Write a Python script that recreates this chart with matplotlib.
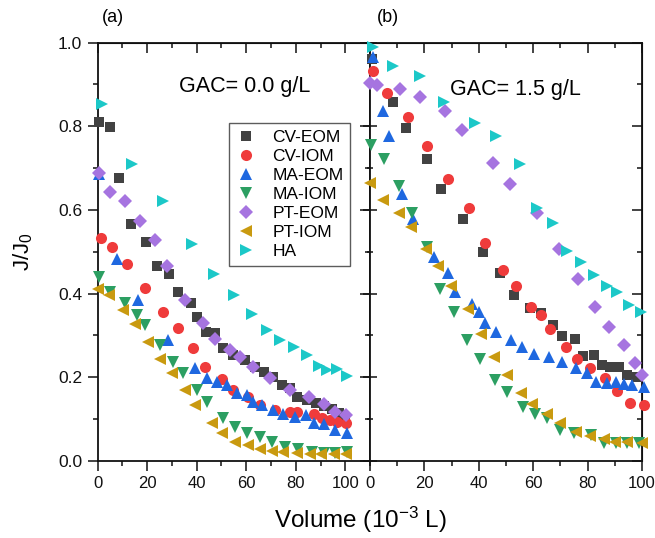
import matplotlib
matplotlib.use('Agg')
import matplotlib.pyplot as plt
from matplotlib.ticker import MultipleLocator, FormatStrFormatter

plt.rcParams['font.family'] = ['Liberation Sans', 'DejaVu Sans']
plt.rcParams['mathtext.fontset'] = 'custom'
plt.rcParams['mathtext.rm'] = 'Liberation Sans'
plt.rcParams['mathtext.it'] = 'Liberation Sans:italic'

# ---- panel (a): GAC = 0.0 g/L ----
a_cv_eom_x = [0.6, 5.0, 8.7, 13.5, 19.5, 24.1, 29.0, 32.6, 37.7, 40.0, 43.7, 47.2, 50.8, 54.8, 59.6,
              63.6, 67.0, 70.8, 74.4, 77.8, 80.7, 84.5, 88.3, 91.2, 94.6, 97.3, 100.0]
a_cv_eom_y = [0.811, 0.799, 0.676, 0.567, 0.524, 0.465, 0.447, 0.405, 0.377, 0.344, 0.309, 0.307,
              0.269, 0.253, 0.241, 0.225, 0.213, 0.202, 0.182, 0.174, 0.152, 0.147, 0.138, 0.131,
              0.124, 0.114, 0.106]
a_cv_iom_x = [1.2, 5.7, 11.7, 19.1, 26.5, 32.6, 38.4, 43.4, 50.1, 54.8, 60.9, 65.6, 71.7, 77.8,
              80.5, 87.2, 90.6, 93.9, 96.6, 100.4]
a_cv_iom_y = [0.532, 0.511, 0.471, 0.413, 0.355, 0.317, 0.269, 0.224, 0.195, 0.170, 0.154, 0.134,
              0.122, 0.118, 0.118, 0.112, 0.102, 0.098, 0.094, 0.092]
a_ma_eom_x = [0.6, 7.9, 16.4, 28.5, 39.3, 44.1, 48.1, 52.2, 56.2, 60.3, 62.7, 66.3, 71.0, 75.0,
              79.8, 84.2, 87.5, 91.2, 96.0, 100.7]
a_ma_eom_y = [0.686, 0.482, 0.385, 0.289, 0.222, 0.198, 0.190, 0.182, 0.162, 0.158, 0.142, 0.134,
              0.122, 0.112, 0.106, 0.110, 0.090, 0.088, 0.074, 0.066]
a_ma_iom_x = [0.6, 5.0, 11.0, 15.8, 19.1, 25.2, 30.3, 34.6, 40.3, 44.1, 50.5, 55.5, 60.3, 65.6,
              70.4, 75.7, 81.1, 86.5, 91.2, 96.0, 100.7]
a_ma_iom_y = [0.440, 0.405, 0.378, 0.349, 0.325, 0.277, 0.237, 0.210, 0.170, 0.142, 0.102, 0.082,
              0.066, 0.057, 0.046, 0.034, 0.028, 0.022, 0.020, 0.020, 0.022]
a_pt_eom_x = [0.6, 5.0, 11.0, 17.1, 23.2, 28.1, 35.3, 42.5, 47.4, 53.5, 57.5, 62.7, 69.7, 77.8,
              85.2, 91.5, 96.0, 100.4]
a_pt_eom_y = [0.689, 0.644, 0.622, 0.574, 0.527, 0.467, 0.385, 0.329, 0.291, 0.265, 0.249, 0.225,
              0.198, 0.170, 0.154, 0.136, 0.118, 0.110]
a_pt_iom_x = [0.0, 4.7, 10.4, 15.1, 20.5, 25.2, 29.9, 35.3, 39.3, 46.1, 50.1, 55.5, 60.9, 65.6,
              70.4, 75.0, 80.5, 85.6, 90.2, 95.6, 100.4]
a_pt_iom_y = [0.410, 0.397, 0.361, 0.328, 0.285, 0.245, 0.210, 0.170, 0.134, 0.090, 0.066, 0.046,
              0.038, 0.030, 0.025, 0.022, 0.020, 0.018, 0.017, 0.018, 0.018]
a_ha_x = [1.6, 13.7, 26.5, 38.0, 46.8, 55.1, 62.3, 68.3, 73.7, 79.1, 84.5, 89.2, 92.6, 96.6, 100.7]
a_ha_y = [0.853, 0.710, 0.622, 0.519, 0.448, 0.397, 0.351, 0.313, 0.289, 0.272, 0.253, 0.227,
          0.218, 0.221, 0.203]

# ---- panel (b): GAC = 1.5 g/L ----
b_cv_eom_x = [0.6, 8.4, 13.3, 20.9, 26.2, 34.2, 41.6, 47.7, 53.1, 58.8, 62.7, 67.4, 70.7, 75.4,
              78.5, 82.4, 85.5, 88.3, 91.6, 94.7, 97.8]
b_cv_eom_y = [0.960, 0.859, 0.795, 0.721, 0.650, 0.578, 0.500, 0.449, 0.397, 0.365, 0.353, 0.325,
              0.299, 0.291, 0.251, 0.253, 0.229, 0.224, 0.224, 0.206, 0.200]
b_cv_iom_x = [1.0, 6.4, 13.8, 20.9, 28.5, 36.3, 42.4, 49.0, 53.5, 59.3, 62.7, 66.2, 72.0, 76.3,
              81.0, 86.3, 91.0, 95.7, 100.6]
b_cv_iom_y = [0.931, 0.880, 0.823, 0.753, 0.673, 0.604, 0.520, 0.457, 0.418, 0.367, 0.349, 0.315,
              0.272, 0.243, 0.222, 0.198, 0.168, 0.138, 0.134]
b_ma_eom_x = [1.0, 4.7, 6.8, 11.7, 15.7, 23.6, 28.5, 31.4, 37.5, 40.0, 42.4, 46.5, 51.9, 55.9,
              60.3, 65.8, 70.7, 75.6, 79.9, 83.0, 87.3, 90.4, 93.4, 96.5, 100.6]
b_ma_eom_y = [0.965, 0.837, 0.777, 0.638, 0.578, 0.487, 0.449, 0.405, 0.375, 0.357, 0.331, 0.309,
              0.289, 0.273, 0.256, 0.248, 0.237, 0.222, 0.210, 0.190, 0.186, 0.190, 0.184, 0.182,
              0.178]
b_ma_iom_x = [0.3, 5.2, 10.8, 15.4, 20.9, 25.8, 31.0, 35.6, 40.3, 46.1, 50.4, 56.3, 60.5, 65.2,
              69.8, 75.0, 81.2, 85.9, 90.4, 94.7, 99.0]
b_ma_iom_y = [0.755, 0.721, 0.657, 0.592, 0.511, 0.410, 0.357, 0.289, 0.243, 0.194, 0.166, 0.130,
              0.112, 0.102, 0.074, 0.066, 0.062, 0.042, 0.044, 0.044, 0.044]
b_pt_eom_x = [0.0, 2.5, 11.1, 18.2, 27.7, 33.8, 45.3, 51.4, 61.5, 69.5, 76.5, 82.6, 87.9, 93.4,
              97.4, 100.2]
b_pt_eom_y = [0.903, 0.899, 0.889, 0.869, 0.837, 0.791, 0.713, 0.662, 0.592, 0.506, 0.435, 0.369,
              0.321, 0.277, 0.234, 0.206]
b_pt_iom_x = [0.0, 4.9, 10.5, 15.0, 20.7, 24.9, 29.8, 35.9, 40.8, 45.5, 50.4, 55.4, 59.7, 65.0,
              69.8, 75.6, 80.9, 85.9, 90.0, 94.7, 100.2]
b_pt_iom_y = [0.665, 0.624, 0.592, 0.559, 0.506, 0.466, 0.418, 0.363, 0.304, 0.249, 0.206, 0.162,
              0.136, 0.112, 0.092, 0.070, 0.060, 0.052, 0.046, 0.046, 0.044]
b_ha_x = [1.2, 8.6, 18.5, 27.1, 38.7, 46.5, 55.1, 61.5, 67.4, 72.6, 77.5, 82.4, 87.3, 91.0, 95.3,
          99.6]
b_ha_y = [0.989, 0.943, 0.919, 0.859, 0.807, 0.777, 0.710, 0.604, 0.568, 0.503, 0.476, 0.445,
          0.418, 0.405, 0.373, 0.357]

labels = ['CV-EOM', 'CV-IOM', 'MA-EOM', 'MA-IOM', 'PT-EOM', 'PT-IOM', 'HA']
markers = ['s', 'o', '^', 'v', 'D', '<', '>']
sizes = [7.5, 8, 9, 9, 7, 9, 9]
colors = ['#424242', '#ef3b3b', '#1f68e0', '#2c9f62', '#a674e0', '#c99a10', '#1cc8c8']

panel_a = [(a_cv_eom_x, a_cv_eom_y), (a_cv_iom_x, a_cv_iom_y), (a_ma_eom_x, a_ma_eom_y),
           (a_ma_iom_x, a_ma_iom_y), (a_pt_eom_x, a_pt_eom_y), (a_pt_iom_x, a_pt_iom_y),
           (a_ha_x, a_ha_y)]
panel_b = [(b_cv_eom_x, b_cv_eom_y), (b_cv_iom_x, b_cv_iom_y), (b_ma_eom_x, b_ma_eom_y),
           (b_ma_iom_x, b_ma_iom_y), (b_pt_eom_x, b_pt_eom_y), (b_pt_iom_x, b_pt_iom_y),
           (b_ha_x, b_ha_y)]

fig = plt.figure(figsize=(6.55, 5.38), dpi=100)
ax1 = fig.add_axes([0.149, 0.143, 0.416, 0.778])
ax2 = fig.add_axes([0.565, 0.143, 0.415, 0.778])


def set_ticks(a, xaxis=True):
    ax_ = a.xaxis if xaxis else a.yaxis
    if xaxis:
        ax_.set_major_locator(MultipleLocator(20))
        ax_.set_minor_locator(MultipleLocator(10))
    else:
        ax_.set_major_locator(MultipleLocator(0.2))
        ax_.set_minor_locator(MultipleLocator(0.1))


for ax, data in ((ax1, panel_a), (ax2, panel_b)):
    for (x, y), lab, m, ms, c in zip(data, labels, markers, sizes, colors):
        ax.plot(x, y, linestyle='none', marker=m, markersize=ms, color=c,
                markeredgewidth=0, label=lab, clip_on=False, zorder=3)
    ax.set_ylim(0, 1.0)
    set_ticks(ax, True)
    set_ticks(ax, False)
    ax.tick_params(which='both', direction='out', top=False, right=False,
                   width=1.1, pad=4, colors='#111111')
    ax.tick_params(axis='x', labelsize=12)
    ax.tick_params(axis='y', labelsize=12.5)
    ax.tick_params(which='major', length=7)
    ax.tick_params(which='minor', length=3.5)
    for s in ax.spines.values():
        s.set_linewidth(1.3)
        s.set_color('#111111')

ax1.set_xlim(0, 110)
ax2.set_xlim(0, 100)
ax1.yaxis.set_major_formatter(FormatStrFormatter('%.1f'))
ax2.tick_params(axis='y', which='both', direction='inout', labelleft=False)
ax2.tick_params(axis='y', which='major', length=10)
ax2.tick_params(axis='y', which='minor', length=5)

# mirror ticks pointing inward on the top and right edges
for ax in (ax1, ax2):
    top = ax.secondary_xaxis('top')
    set_ticks(top, True)
    top.tick_params(which='both', direction='in', labeltop=False, width=1.1, colors='#111111')
    top.tick_params(which='major', length=7)
    top.tick_params(which='minor', length=3.5)
    right = ax.secondary_yaxis('right')
    set_ticks(right, False)
    right.tick_params(which='both', direction='in', labelright=False, width=1.1, colors='#111111')
    right.tick_params(which='major', length=7)
    right.tick_params(which='minor', length=3.5)

ax1.text(0.30, 0.896, 'GAC= 0.0 g/L', transform=ax1.transAxes, fontsize=15.5, va='center')
ax2.text(0.294, 0.887, 'GAC= 1.5 g/L', transform=ax2.transAxes, fontsize=15.5, va='center')

leg = ax1.legend(loc='upper left', bbox_to_anchor=(0.482, 0.808), borderaxespad=0,
                 fontsize=12.5, labelspacing=0.22, handlelength=1.2, handletextpad=0.9,
                 borderpad=0.4, fancybox=False, frameon=True)
leg.get_frame().set_edgecolor('#333333')
leg.get_frame().set_linewidth(1.0)
leg.set_zorder(5)

fig.text(0.172, 0.967, '(a)', fontsize=13, ha='center', va='center')
fig.text(0.593, 0.967, '(b)', fontsize=13, ha='center', va='center')
fig.text(0.036, 0.533, 'J/J$_0$', rotation=90, fontsize=16, ha='center', va='center')
fig.text(0.551, 0.033, 'Volume (10$^{-3}$ L)', fontsize=17.5, ha='center', va='center')

fig.savefig('out.png', dpi=100)
